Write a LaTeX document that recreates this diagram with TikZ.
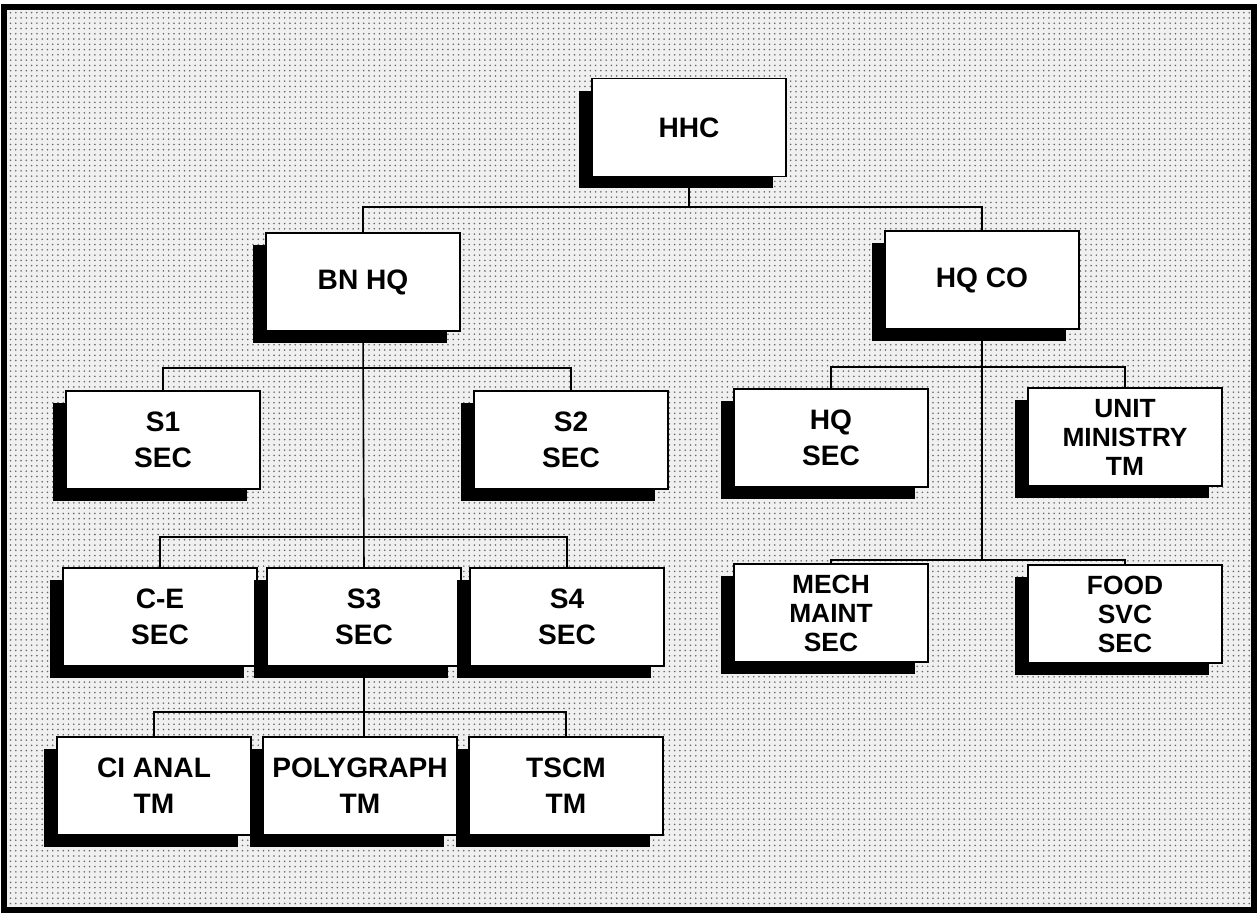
\documentclass[tikz,border=0pt]{standalone}
\usepackage{fontspec}
\setmainfont{Liberation Sans}
\usepackage{tikz}
\usetikzlibrary{positioning,shadows,patterns,backgrounds}

\begin{document}
\begin{tikzpicture}[x=0.02cm,y=-0.02cm,
    org/.style={rectangle,draw=black,fill=white,line width=0.9pt,minimum width=3.88cm,minimum height=1.96cm,inner sep=1pt,align=center,font=\fontsize{16}{20.5}\selectfont\bfseries,
      general shadow={fill=black,shadow xshift=-0.26cm,shadow yshift=-0.24cm}},
    tight/.style={org,font=\fontsize{15}{16.5}\selectfont\bfseries},
    link/.style={draw=black,line width=0.9pt},
]
\useasboundingbox (0,0) rectangle (1258,914);

% top
\node[org] (hhc) at (689,127.5) {HHC};
\node[org] (bnhq) at (363,282) {BN HQ};
\node[org] (hqco) at (982,280) {HQ CO};

% BN HQ side
\node[org] (s1) at (163,440) {S1\\SEC};
\node[org] (s2) at (571,440) {S2\\SEC};
\node[org] (ce) at (160,617) {C-E\\SEC};
\node[org] (s3) at (364,617) {S3\\SEC};
\node[org] (s4) at (567,617) {S4\\SEC};
\node[org] (cianal) at (154,786) {CI ANAL\\TM};
\node[org] (poly) at (360,786) {POLYGRAPH\\TM};
\node[org] (tscm) at (566,786) {TSCM\\TM};

% HQ CO side
\node[org] (hqsec) at (831,438) {HQ\\SEC};
\node[tight] (unit) at (1125,437) {UNIT\\MINISTRY\\TM};
\node[tight] (mech) at (831,613) {MECH\\MAINT\\SEC};
\node[tight] (food) at (1125,614) {FOOD\\SVC\\SEC};

% connectors
\coordinate (b0) at (689,207);
\coordinate (b1) at (363,368);
\coordinate (b2) at (363,537);
\coordinate (b3) at (364,712);
\coordinate (b4) at (982,367);
\coordinate (b5) at (982,560);

\begin{scope}[on background layer]
\fill[black!6] (4,7) rectangle (1254,910);
\fill[pattern=dots,pattern color=black!60] (4,7) rectangle (1254,910);
\draw[link] (hhc.south) -- (b0);
\draw[link] (bnhq.north) |- (b0) -| (hqco.north);
\draw[link] (bnhq.south) -- (s3.north);
\draw[link] (s1.north) |- (b1) -| (s2.north);
\draw[link] (ce.north) |- (b2) -| (s4.north);
\draw[link] (s3.south) -- (b3);
\draw[link] (cianal.north) |- (b3) -| (tscm.north);
\draw[link] (b3) -- (b3 |- poly.north);
\draw[link] (hqco.south) -- (b5);
\draw[link] (hqsec.north) |- (b4) -| (unit.north);
\draw[link] (mech.north) |- (b5) -| (food.north);
\end{scope}
\draw[line width=3pt] (4,7) rectangle (1254,910);
\end{tikzpicture}
\end{document}
